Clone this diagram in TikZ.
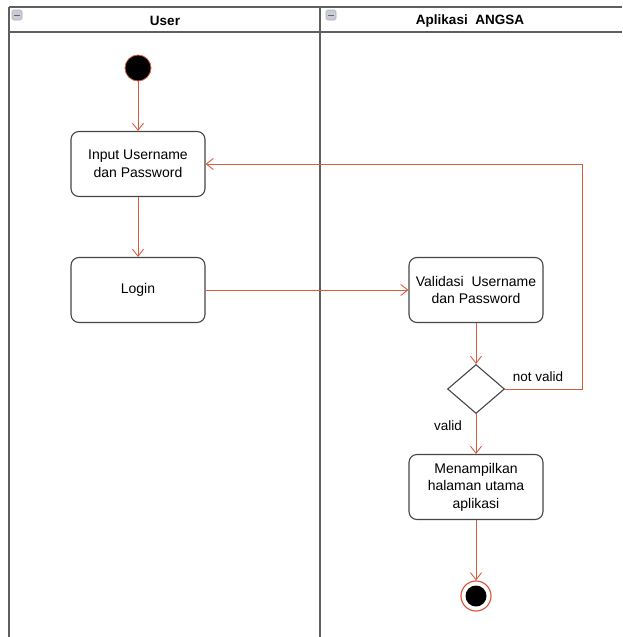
\documentclass[tikz,border=0pt]{standalone}
\usepackage{fontspec}
\setmainfont{Liberation Sans}
\usetikzlibrary{arrows.meta,shapes.geometric}
\definecolor{flow}{RGB}{214,92,62}
\definecolor{lane}{RGB}{95,95,95}
\definecolor{boxline}{RGB}{70,70,70}
\definecolor{iconfill}{RGB}{200,204,215}
\tikzset{
  act/.style={draw=boxline, line width=1.1pt, rounded corners=8pt, minimum width=134pt, minimum height=65pt, align=center, font=\fontsize{14}{17.5}\selectfont, fill=white},
  flowarrow/.style={draw=flow, line width=0.9pt, -{Straight Barb[length=7pt,width=11pt]}},
  lanestyle/.style={draw=lane, line width=1.6pt},
  icon/.style={draw=gray!60, fill=iconfill, rounded corners=1.5pt, minimum width=10pt, minimum height=10pt, inner sep=0pt, line width=0.6pt},
  lbl/.style={font=\fontsize{13.5}{16}\selectfont}
}
\begin{document}
\begin{tikzpicture}[x=1pt,y=-1pt]
\useasboundingbox (0,0) rectangle (622,637);
% swimlanes
\draw[lanestyle] (9,7) -- (622,7);
\draw[lanestyle] (9,32) -- (622,32);
\draw[lanestyle] (9,7) -- (9,637);
\draw[lanestyle] (320,7) -- (320,637);
\node[icon] (ic1) at (17,15) {};
\draw[gray!80!black, line width=1pt] (14,15) -- (20,15);
\node[icon] (ic2) at (331,15) {};
\draw[gray!80!black, line width=1pt] (328,15) -- (334,15);
\node[font=\bfseries\fontsize{13.5}{16}\selectfont] (h1) at (165,21) {User};
\node[font=\bfseries\fontsize{13.5}{16}\selectfont] (h2) at (470,21) {Aplikasi\ \ ANGSA};
% nodes
\node[circle, fill=black, draw=flow, line width=0.8pt, minimum size=26pt, inner sep=0pt] (start) at (138,68) {};
\node[act] (input) at (138,164) {Input Username\\dan Password};
\node[act] (login) at (138,290) {Login};
\node[act] (valid) at (476,290) {Validasi\ \ Username\\dan Password};
\node[diamond, draw=boxline, line width=1.1pt, minimum width=57pt, minimum height=49pt, inner sep=0pt, aspect=1.15] (dec) at (476,389) {};
\node[act] (menu) at (476,487) {Menampilkan\\halaman utama\\aplikasi};
\node[circle, draw=flow, line width=1.2pt, minimum size=30pt, inner sep=0pt] (endo) at (476,596) {};
\node[circle, fill=black, minimum size=21pt, inner sep=0pt] (endi) at (476,596) {};
% connectors
\draw[flowarrow] (start) -- (input);
\draw[flowarrow] (input) -- (login);
\draw[flowarrow] (login) -- (valid);
\draw[flowarrow] (valid) -- (dec);
\coordinate (c1) at (582,389);
\coordinate (c2) at (582,164);
\draw[flowarrow] (dec.east) -- (c1) -- (c2) -- (input.east);
\draw[flowarrow] (dec) -- (menu);
\draw[flowarrow] (menu) -- (endo);
\node[lbl] (nv) at (538,377) {not valid};
\node[lbl] (vl) at (448,426) {valid};
\end{tikzpicture}
\end{document}
